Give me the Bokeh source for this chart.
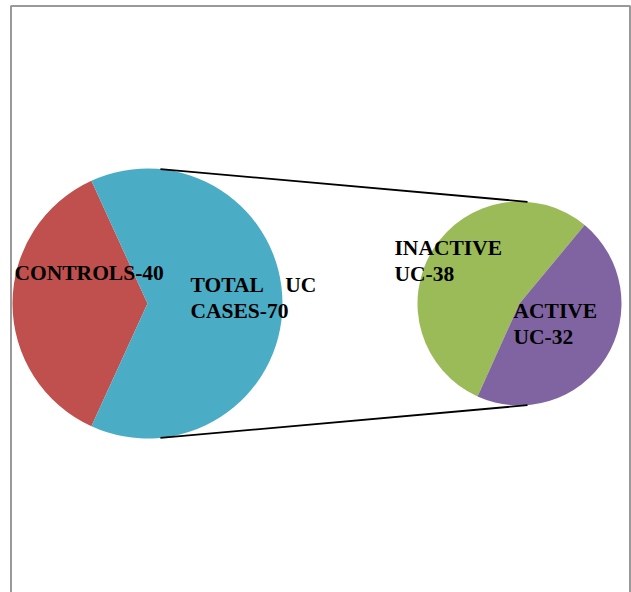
import math
from bokeh.plotting import figure
from bokeh.models import Range1d, ColumnDataSource
from bokeh.core.properties import value
from bokeh.embed import file_html
from bokeh.resources import INLINE

# ---- data ----
main_labels = ["CONTROLS-40", "TOTAL\u00a0\u00a0\u00a0\u00a0UC\nCASES-70"]
main_values = [40, 70]
main_colors = ["#C0504D", "#4BACC6"]

sub_labels = ["INACTIVE\nUC-38", "ACTIVE\nUC-32"]
sub_values = [38, 32]
sub_colors = ["#9BBB59", "#8064A2"]

W, H = 631, 592

p = figure(width=W, height=H, x_range=Range1d(0, W), y_range=Range1d(0, H),
           output_backend="svg", toolbar_location=None, min_border=0)
p.axis.visible = False
p.grid.visible = False
p.outline_line_color = None
p.background_fill_color = "white"

def sy(y):
    return H - y

# frame
p.line(x=[10.5, 10.5, 629.5, 629.5], y=[sy(620), sy(5.5), sy(5.5), sy(620)],
       line_color="#999999", line_width=2)

# main pie
cx1, cy1, r1 = 147, sy(303), 135
tot = sum(main_values)
start = 180 - main_values[0] / tot * 180
starts, ends = [], []
a = start
for v in main_values:
    starts.append(math.radians(a))
    a += v / tot * 360
    ends.append(math.radians(a))
src1 = ColumnDataSource(dict(start=starts, end=ends, color=main_colors))
p.wedge(x=cx1, y=cy1, radius=r1, start_angle="start", end_angle="end",
        fill_color="color", line_color=None, source=src1)

# secondary pie
cx2, cy2, r2 = 519, sy(303), 102
tot2 = sum(sub_values)
a = 50.3
starts, ends = [], []
for v in sub_values:
    starts.append(math.radians(a))
    a += v / tot2 * 360
    ends.append(math.radians(a))
src2 = ColumnDataSource(dict(start=starts, end=ends, color=sub_colors))
p.wedge(x=cx2, y=cy2, radius=r2, start_angle="start", end_angle="end",
        fill_color="color", line_color=None, source=src2)

# connector lines
la = math.radians(84.5)
ra = math.radians(85.5)
p.line(x=[cx1 + r1 * math.cos(la), cx2 + r2 * math.cos(ra)],
       y=[cy1 + r1 * math.sin(la), cy2 + r2 * math.sin(ra)],
       line_color="black", line_width=1.8)
p.line(x=[cx1 + r1 * math.cos(-la), cx2 + r2 * math.cos(-ra)],
       y=[cy1 + r1 * math.sin(-la), cy2 + r2 * math.sin(-ra)],
       line_color="black", line_width=1.8)

# labels
lx = [14, 190, 394, 513]
ly = [sy(272), sy(297.5), sy(260.5), sy(323.5)]
texts = [main_labels[0], main_labels[1], sub_labels[0], sub_labels[1]]
p.text(x=lx, y=ly, text=texts, text_font=value("Liberation Serif"),
       text_font_style="bold", text_font_size="21.5px", text_color="black",
       text_baseline="middle", text_align="left", text_line_height=1.1)

open("out.html", "w").write(file_html(p, INLINE))
